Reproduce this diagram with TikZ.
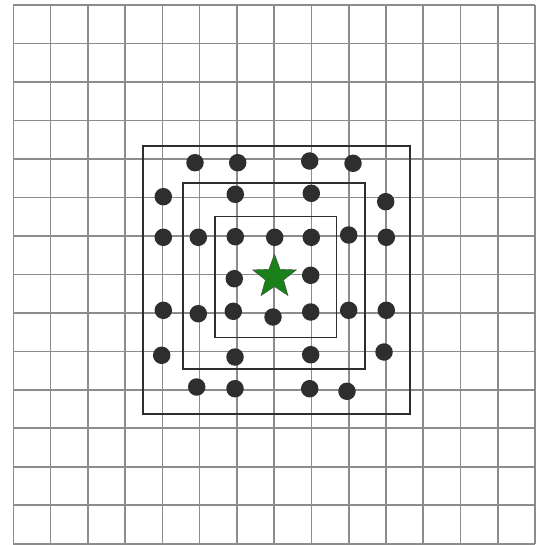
\documentclass[tikz,border=0pt]{standalone}
\usepackage{tikz}
\usepackage{xcolor}
\usetikzlibrary{shapes.geometric}

\definecolor{gridgray}{HTML}{8C8C8C}
\definecolor{dotgray}{HTML}{2E2E2E}
\definecolor{stargreen}{HTML}{1A801A}

\begin{document}
\begin{tikzpicture}[
  x=1pt, y=-1pt,
  gridline/.style={gridgray, line width=1.6pt},
  box/.style={draw=dotgray, line width=1.8pt},
  dot/.style={circle, fill=dotgray, inner sep=0pt, minimum size=17.5pt},
  target/.style={star, star points=5, star point ratio=2.4, draw=black!70, thin,
                 fill=stargreen, inner sep=0pt, minimum size=46pt}
]
\useasboundingbox (0,0) rectangle (538,545);

% grid
\foreach \i in {0,...,14} {
  \draw[gridline] ({13.3+37.27*\i},5) -- ({13.3+37.27*\i},543.7);
  \draw[gridline] (13.3,{5+38.48*\i}) -- (535,{5+38.48*\i});
}

% nested windows
\draw[box] (143.3,145.7) rectangle (409.7,413.7);
\draw[box] (182.7,182.7) rectangle (364.7,368.7);
\draw[box] (215,216.5) rectangle (336.5,337.5);

% samples
\foreach \x/\y [count=\n] in {
    195/162.7, 237.7/162.7, 309.7/161, 353/163.3,
    163.3/196.7, 235.3/194.3, 311.3/193.3, 385.7/201.7,
    163.3/237.3, 198.3/237.3, 235.3/236.7, 274.7/237.3, 311.3/237.3, 348.7/235, 386.3/237.3,
    234.3/278.7, 310.7/275.3,
    163.3/310.3, 198.3/313.7, 233.3/311.3, 273/317, 310.7/312, 348.7/310.3, 386.3/310.3,
    161.7/355.3, 235/357, 310.7/354.7, 384/352,
    196.7/387, 235/388.7, 309.7/388.7, 347/391.3}
  \node[dot] (s\n) at (\x,\y) {};

\node[target] (c) at (274.5,277) {};

\end{tikzpicture}
\end{document}
